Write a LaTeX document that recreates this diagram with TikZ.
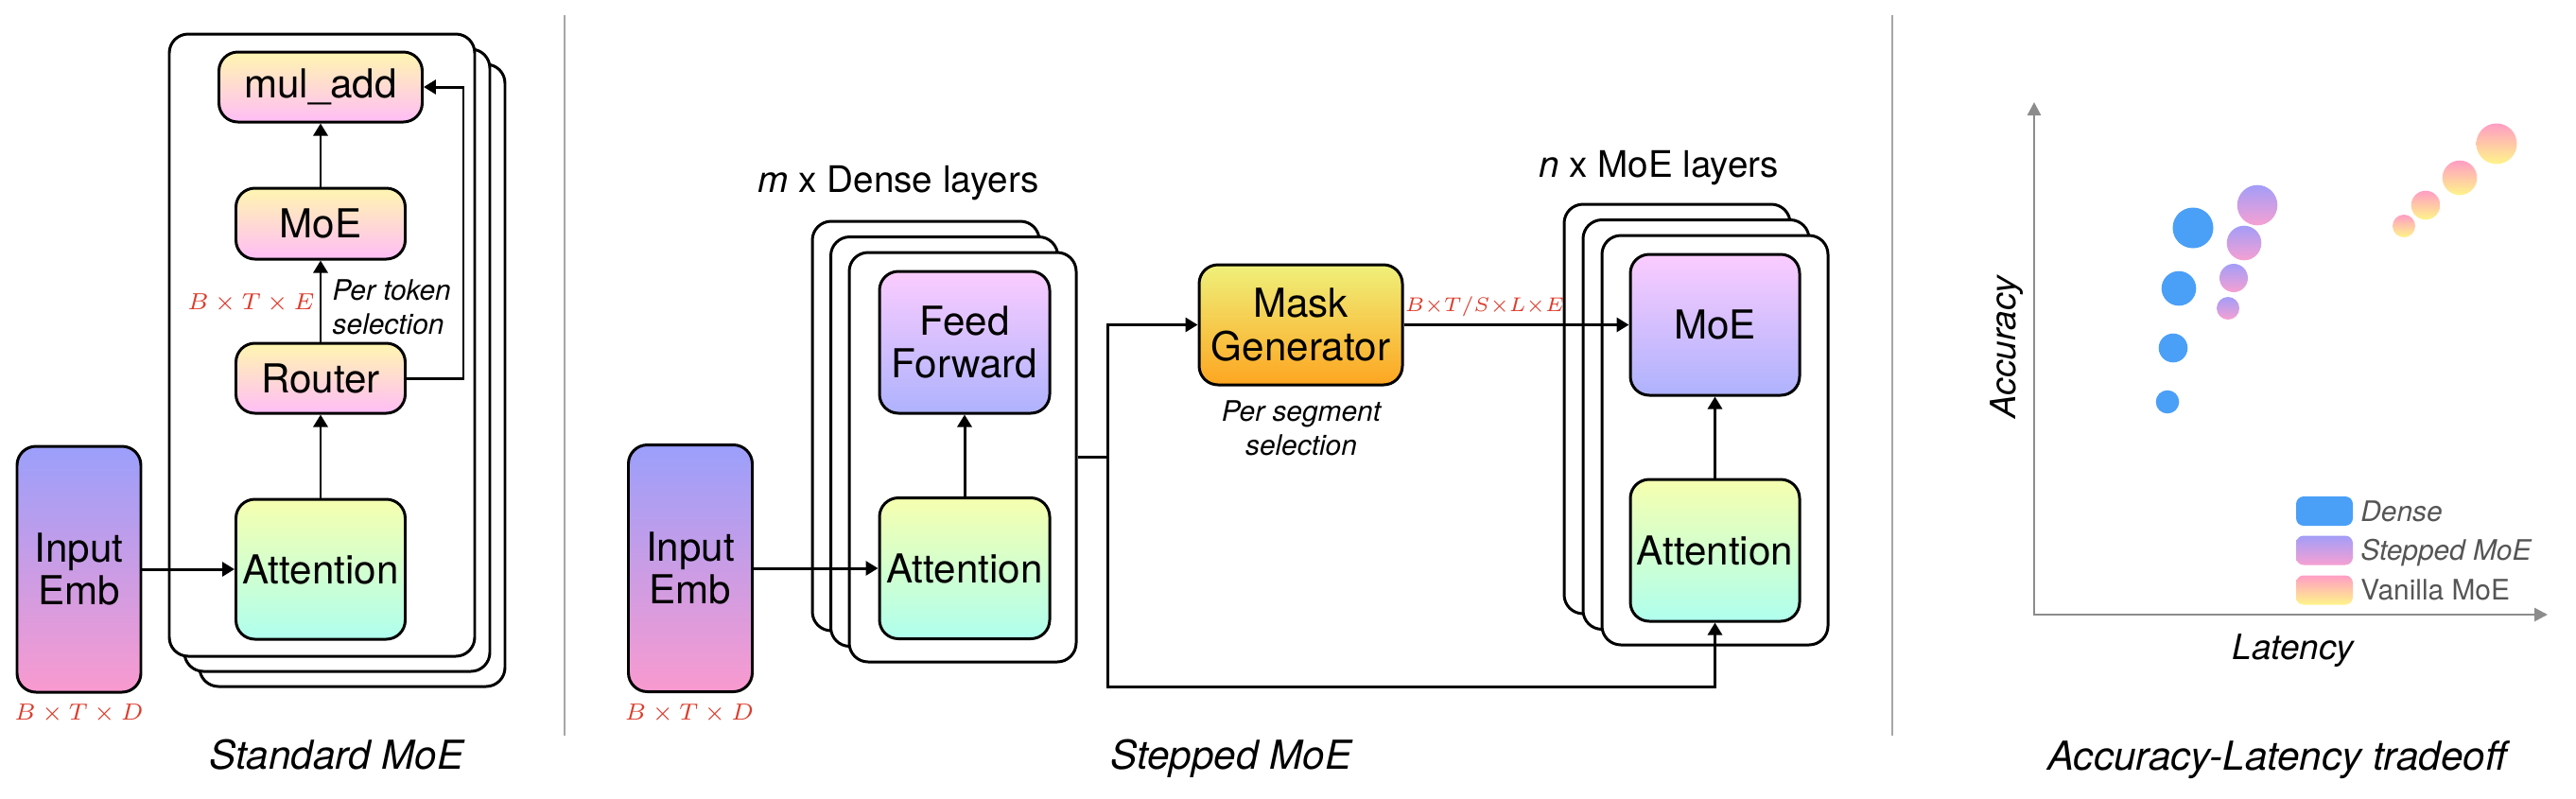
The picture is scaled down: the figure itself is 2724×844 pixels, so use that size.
\documentclass[tikz,border=0pt]{standalone}
\usepackage{fontspec}
\setmainfont{TeX Gyre Heros}
\usetikzlibrary{arrows.meta,positioning}

\definecolor{hotTop}{HTML}{FFF6B0}
\definecolor{hotBot}{HTML}{FFBDF6}
\definecolor{attTop}{HTML}{F6FFAF}
\definecolor{attBot}{HTML}{AFFFEE}
\definecolor{embTop}{HTML}{9B9FFB}
\definecolor{embBot}{HTML}{F99ACF}
\definecolor{ffnTop}{HTML}{FBCCFF}
\definecolor{ffnBot}{HTML}{AEB2FD}
\definecolor{maskTop}{HTML}{EFF07A}
\definecolor{maskBot}{HTML}{FDA621}
\definecolor{denseBlue}{HTML}{4A9FF7}
\definecolor{stepTop}{HTML}{A39DF8}
\definecolor{stepBot}{HTML}{F6A0D2}
\definecolor{vanTop}{HTML}{FF9DC4}
\definecolor{vanBot}{HTML}{FFF48A}
\definecolor{dimRed}{HTML}{DD3B2B}
\definecolor{keyGray}{HTML}{555555}
\definecolor{axisGray}{HTML}{8C8C8C}
\definecolor{sepGray}{HTML}{A6A6A6}

\begin{document}
\begin{tikzpicture}[
		x=0.1mm, y=-0.1mm,
		post/.style={->,shorten >=0pt,>={Triangle[length=1.3mm,width=1.5mm]},line width=0.85pt},
		conn/.style={-,line width=0.85pt},
		block/.style={draw,rounded corners=2mm,line width=0.85pt,align=center,inner sep=0pt,
			font=\fontsize{12}{13}\selectfont},
		layer/.style={draw,fill=white,rounded corners=2mm,line width=0.85pt,inner sep=0pt},
		hot/.style={top color=hotTop,bottom color=hotBot},
		att/.style={top color=attTop,bottom color=attBot},
		emb/.style={top color=embTop,bottom color=embBot},
		ffn/.style={top color=ffnTop,bottom color=ffnBot},
		maskc/.style={top color=maskTop,bottom color=maskBot},
		dim/.style={text=dimRed,inner sep=0pt,anchor=base,font=\fontsize{7}{8}\selectfont},
		note/.style={inner sep=0pt,font=\fontsize{8.5}{10.3}\selectfont\itshape},
		heading/.style={inner sep=0pt,anchor=base,font=\fontsize{11}{13}\selectfont},
		caption/.style={inner sep=0pt,anchor=base,font=\fontsize{12}{14}\selectfont\itshape},
		sep/.style={draw=sepGray,line width=0.6pt},
		axis/.style={draw=axisGray,line width=0.75pt,{Triangle[length=1.4mm,width=1.4mm]}-{Triangle[length=1.4mm,width=1.4mm]}},
		axlabel/.style={inner sep=0pt,anchor=base,font=\fontsize{10.5}{12}\selectfont\itshape},
		bubble/.style={circle,inner sep=0pt},
		swatch/.style={rounded corners=0.8mm,minimum width=6mm,minimum height=3.1mm,inner sep=0pt},
		keytext/.style={inner sep=0pt,text=keyGray,text height=6.1pt,text depth=0pt,font=\fontsize{8.5}{10}\selectfont}]

		\useasboundingbox (0,0) rectangle (2724,844);

		% standard MoE
		\node[layer, minimum width=32.3mm, minimum height=65.8mm] (sl3) at (372.5,397) {};
		\node[layer, minimum width=32.3mm, minimum height=65.8mm] (sl2) at (356.5,381) {};
		\node[layer, minimum width=32.3mm, minimum height=65.8mm] (sl1) at (340.5,365) {};

		\node[block, emb, minimum width=13.1mm, minimum height=26mm] (emb1) at (83.5,602) {Input\\Emb};
		\node[block, att, minimum width=17.9mm, minimum height=14.8mm] (att1) at (339,602) {Attention};
		\node[block, hot, minimum width=17.9mm, minimum height=7.4mm] (router) at (339,400) {Router};
		\node[block, hot, minimum width=17.9mm, minimum height=7.5mm] (moe1) at (339,236.5) {MoE};
		\node[block, hot, minimum width=21.5mm, minimum height=7.4mm] (muladd) at (339,92) {mul\_add};

		\draw[post] (emb1) -- (att1);
		\draw[post] (att1) -- (router);
		\draw[post] (router) -- (moe1);
		\draw[post] (moe1) -- (muladd);
		\draw[post] (router.east) -- ++(60,0) |- (muladd.east);

		\node[dim] (dimE) at (265.5,327) {$B\times T\times E$};
		\node[note, anchor=west, align=left] (pertok) at (351,325) {Per token\\selection};
		\node[dim] (dimD1) at (83.5,761) {$B\times T\times D$};
		\node[caption] (cap1) at (356,813) {Standard MoE};

		\draw[sep] (597,16) -- (597,778);

		% stepped MoE
		\node[layer, minimum width=24mm, minimum height=43.3mm] (dl3) at (979,450.5) {};
		\node[layer, minimum width=24mm, minimum height=43.3mm] (dl2) at (998.5,467) {};
		\node[layer, minimum width=24mm, minimum height=43.3mm] (dl1) at (1018,483.5) {};
		\node[heading] (mhead) at (950,203) {\textit{m} x Dense layers};

		\node[block, emb, minimum width=13.1mm, minimum height=26.1mm] (emb2) at (730,601) {Input\\Emb};
		\node[block, att, minimum width=18mm, minimum height=14.9mm] (att2) at (1020,601) {Attention};
		\node[block, ffn, minimum width=18mm, minimum height=15mm] (ff) at (1020,362) {Feed\\Forward};
		\node[dim] (dimD2) at (729,761) {$B\times T\times D$};

		\node[block, maskc, minimum width=21.5mm, minimum height=12.7mm] (mask) at (1375.5,343.5) {Mask\\Generator};
		\node[note, align=center] (perseg) at (1376,453) {Per segment\\selection};

		\node[layer, minimum width=23.9mm, minimum height=43.3mm] (ml3) at (1773.5,432.5) {};
		\node[layer, minimum width=23.9mm, minimum height=43.3mm] (ml2) at (1793.5,449) {};
		\node[layer, minimum width=23.9mm, minimum height=43.3mm] (ml1) at (1813.5,465.5) {};
		\node[heading] (nhead) at (1754,187) {\textit{n} x MoE layers};

		\node[block, ffn, minimum width=17.9mm, minimum height=14.9mm] (moe2) at (1813.5,343.5) {MoE};
		\node[block, att, minimum width=17.9mm, minimum height=15mm] (att3) at (1813.5,582) {Attention};

		\coordinate (split) at (1171,483.5);
		\coordinate (low) at (1171,726);
		\draw[post] (emb2) -- (att2);
		\draw[post] (att2) -- (ff);
		\draw[conn] (dl1.east) -- (split);
		\draw[post] (split) |- (mask.west);
		\draw[post] (split) -- (low) -| (att3.south);
		\draw[post] (mask) -- (moe2);
		\draw[post] (att3) -- (moe2);

		\node[dim, font=\fontsize{5.8}{7}\selectfont] (dimL) at (1570,329) {$B{\times}T/S{\times}L{\times}E$};
		\node[caption] (cap2) at (1302,813) {Stepped MoE};

		\draw[sep] (2001,16) -- (2001,778);

		% tradeoff chart
		\coordinate (O) at (2151,650);
		\coordinate (ytip) at (2151,108);
		\coordinate (xtip) at (2694,650);
		\draw[axis] (ytip) -- (O) -- (xtip);
		\node[axlabel, rotate=90] (acc) at (2131,367) {Accuracy};
		\node[axlabel] (lat) at (2425,697) {Latency};

		\node[bubble, fill=denseBlue, minimum size=4.3mm] (d1) at (2319,241) {};
		\node[bubble, fill=denseBlue, minimum size=3.66mm] (d2) at (2304,305) {};
		\node[bubble, fill=denseBlue, minimum size=3.06mm] (d3) at (2298,368) {};
		\node[bubble, fill=denseBlue, minimum size=2.46mm] (d4) at (2292,425) {};
		\node[bubble, top color=stepTop, bottom color=stepBot, minimum size=4.26mm] (s1) at (2387,217) {};
		\node[bubble, top color=stepTop, bottom color=stepBot, minimum size=3.66mm] (s2) at (2373,257) {};
		\node[bubble, top color=stepTop, bottom color=stepBot, minimum size=3mm] (s3) at (2362,294) {};
		\node[bubble, top color=stepTop, bottom color=stepBot, minimum size=2.4mm] (s4) at (2356,326) {};
		\node[bubble, top color=vanTop, bottom color=vanBot, minimum size=2.4mm] (v1) at (2542,239) {};
		\node[bubble, top color=vanTop, bottom color=vanBot, minimum size=3.06mm] (v2) at (2565,217) {};
		\node[bubble, top color=vanTop, bottom color=vanBot, minimum size=3.66mm] (v3) at (2601,188) {};
		\node[bubble, top color=vanTop, bottom color=vanBot, minimum size=4.3mm] (v4) at (2640,152) {};

		\node[swatch, fill=denseBlue] (kd) at (2458,540.5) {};
		\node[swatch, top color=stepTop, bottom color=stepBot] (ks) at (2458,582) {};
		\node[swatch, top color=vanTop, bottom color=vanBot] (kv) at (2458,624) {};
		\node[keytext, right=0.7mm of kd] (kdt) {\itshape Dense};
		\node[keytext, right=0.7mm of ks] (kst) {\itshape Stepped MoE};
		\node[keytext, right=0.7mm of kv] (kvt) {Vanilla MoE};

		\node[caption] (cap3) at (2408,814) {Accuracy-Latency tradeoff};
	\end{tikzpicture}
\end{document}
